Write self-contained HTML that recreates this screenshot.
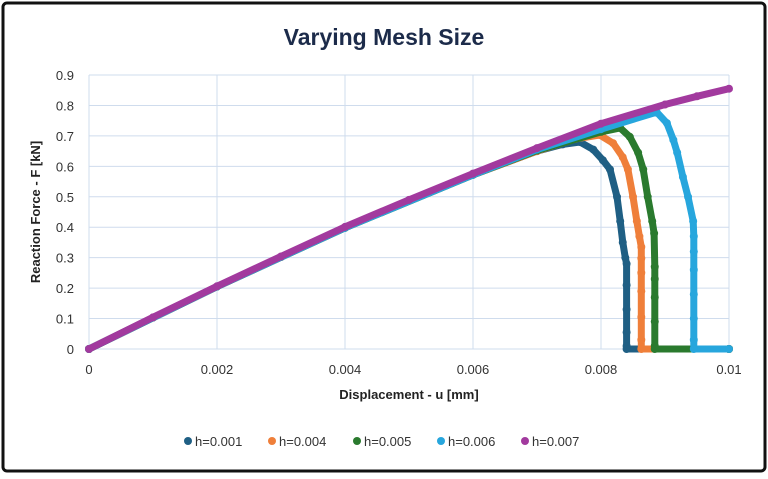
<!DOCTYPE html>
<html><head><meta charset="utf-8"><style>
body{margin:0;background:#fff;}
svg text{font-family:"Liberation Sans",sans-serif;}
</style></head><body>
<svg width="768" height="474" viewBox="0 0 768 474">
<rect x="3" y="3" width="762" height="468" rx="4" fill="#fff" stroke="#111" stroke-width="3"/>
<text x="384" y="45" text-anchor="middle" font-size="23" font-weight="bold" fill="#1c2b4a">Varying Mesh Size</text>
<g id="grid"></g>
<g id="series"></g>
<text transform="translate(40,212) rotate(-90)" text-anchor="middle" font-size="13" font-weight="bold" fill="#222">Reaction Force - F [kN]</text>
<text x="409" y="399" text-anchor="middle" font-size="13" font-weight="bold" fill="#222">Displacement - u [mm]</text>
<g id="legend"></g>
</svg>
<script>
const xTicks=[0,0.002,0.004,0.006,0.008,0.01];
const xTickLabels=["0","0.002","0.004","0.006","0.008","0.01"];
const yTicks=[0,0.1,0.2,0.3,0.4,0.5,0.6,0.7,0.8,0.9];
const yTickLabels=["0","0.1","0.2","0.3","0.4","0.5","0.6","0.7","0.8","0.9"];
const seriesNames=["h=0.001","h=0.004","h=0.005","h=0.006","h=0.007"];
const seriesColors=["#1f5f84","#ef7f3a","#2a7a2e","#27a6dd","#a23a9e"];
const u001=[0,0.001,0.002,0.003,0.004,0.005,0.006,0.007,0.0074,0.00767,0.00788,0.00803,0.00814,0.00825,0.0083,0.00834,0.00838,0.0084,0.0084,0.0084,0.0084,0.0084,0.0084,0.01];
const F001=[0,0.103,0.205,0.302,0.398,0.487,0.572,0.65,0.672,0.68,0.655,0.62,0.59,0.5,0.42,0.35,0.3,0.28,0.21,0.13,0.055,0.01,0,0];
const u004=[0,0.002,0.004,0.006,0.007,0.0076,0.00798,0.00819,0.00834,0.00842,0.0085,0.00856,0.0086,0.00863,0.00863,0.00863,0.00863,0.00863,0.00863,0.00863,0.01];
const F004=[0,0.205,0.398,0.572,0.65,0.69,0.703,0.676,0.63,0.59,0.5,0.42,0.37,0.335,0.298,0.25,0.19,0.105,0.03,0,0];
const u005=[0,0.002,0.004,0.006,0.007,0.008,0.0083,0.00845,0.00858,0.00866,0.00873,0.0088,0.00883,0.00884,0.00884,0.00884,0.00884,0.00884,0.00884,0.01];
const F005=[0,0.205,0.398,0.572,0.652,0.713,0.726,0.697,0.645,0.59,0.5,0.42,0.38,0.27,0.23,0.17,0.09,0.01,0,0];
const u006=[0,0.002,0.004,0.006,0.007,0.008,0.00887,0.00903,0.00913,0.00919,0.00928,0.00936,0.00944,0.00945,0.00945,0.00945,0.00945,0.00945,0.00945,0.00945,0.01];
const F006=[0,0.205,0.398,0.572,0.655,0.722,0.778,0.742,0.687,0.645,0.565,0.5,0.42,0.37,0.32,0.26,0.18,0.1,0.03,0,0];
const u007=[0,0.001,0.002,0.003,0.004,0.005,0.006,0.007,0.008,0.009,0.0095,0.01];
const F007=[0,0.104,0.206,0.304,0.401,0.49,0.576,0.66,0.74,0.803,0.83,0.855];
const allU=[u001,u004,u005,u006,u007], allF=[F001,F004,F005,F006,F007];
const X0=89,X1=729,Y0=349,Y1=75;
const xs=u=>X0+u/0.01*(X1-X0);
const ys=f=>Y0-f/0.9*(Y0-Y1);
const NS="http://www.w3.org/2000/svg";
function mk(t,a,p){const e=document.createElementNS(NS,t);for(const k in a)e.setAttribute(k,a[k]);p.appendChild(e);return e;}
const grid=document.getElementById('grid');
yTicks.forEach((v,i)=>{
  const l=mk('line',{x1:X0,x2:X1,y1:ys(v),y2:ys(v),stroke:'#cfdced','stroke-width':1},grid);
  
  
  const t=mk('text',{x:74,y:ys(v)+5,'text-anchor':'end','font-size':13,fill:'#333'},grid);
  t.textContent=yTickLabels[i];
  
  
});
xTicks.forEach((v,i)=>{
  const l=mk('line',{x1:xs(v),x2:xs(v),y1:Y1,y2:Y0,stroke:'#cfdced','stroke-width':1},grid);
  
  
  const t=mk('text',{x:xs(v),y:374,'text-anchor':'middle','font-size':13,fill:'#333'},grid);
  t.textContent=xTickLabels[i];
  
  
});
const sg=document.getElementById('series');
allU.forEach((U,s)=>{
  const g=mk('g',{},sg);
  
  
  const d=U.map((u,i)=>(i?'L':'M')+xs(u).toFixed(1)+','+ys(allF[s][i]).toFixed(1)).join(' ');
  const p=mk('path',{d:d,fill:'none',stroke:seriesColors[s],'stroke-width':7,'stroke-linecap':'round','stroke-linejoin':'round'},g);
  
  
  U.forEach((u,i)=>{
    const c=mk('circle',{cx:xs(u),cy:ys(allF[s][i]),r:4,fill:seriesColors[s]},g);
    
    
  });
});
const lg=document.getElementById('legend');
const lx=[188,272,357,441,525];
seriesNames.forEach((n,i)=>{
  const g=mk('g',{},lg);
  
  
  mk('circle',{cx:lx[i],cy:441,r:4,fill:seriesColors[i]},g);
  const t=mk('text',{x:lx[i]+7,y:446,'font-size':13,fill:'#333'},g);
  t.textContent=n;
});
</script>
</body></html>
